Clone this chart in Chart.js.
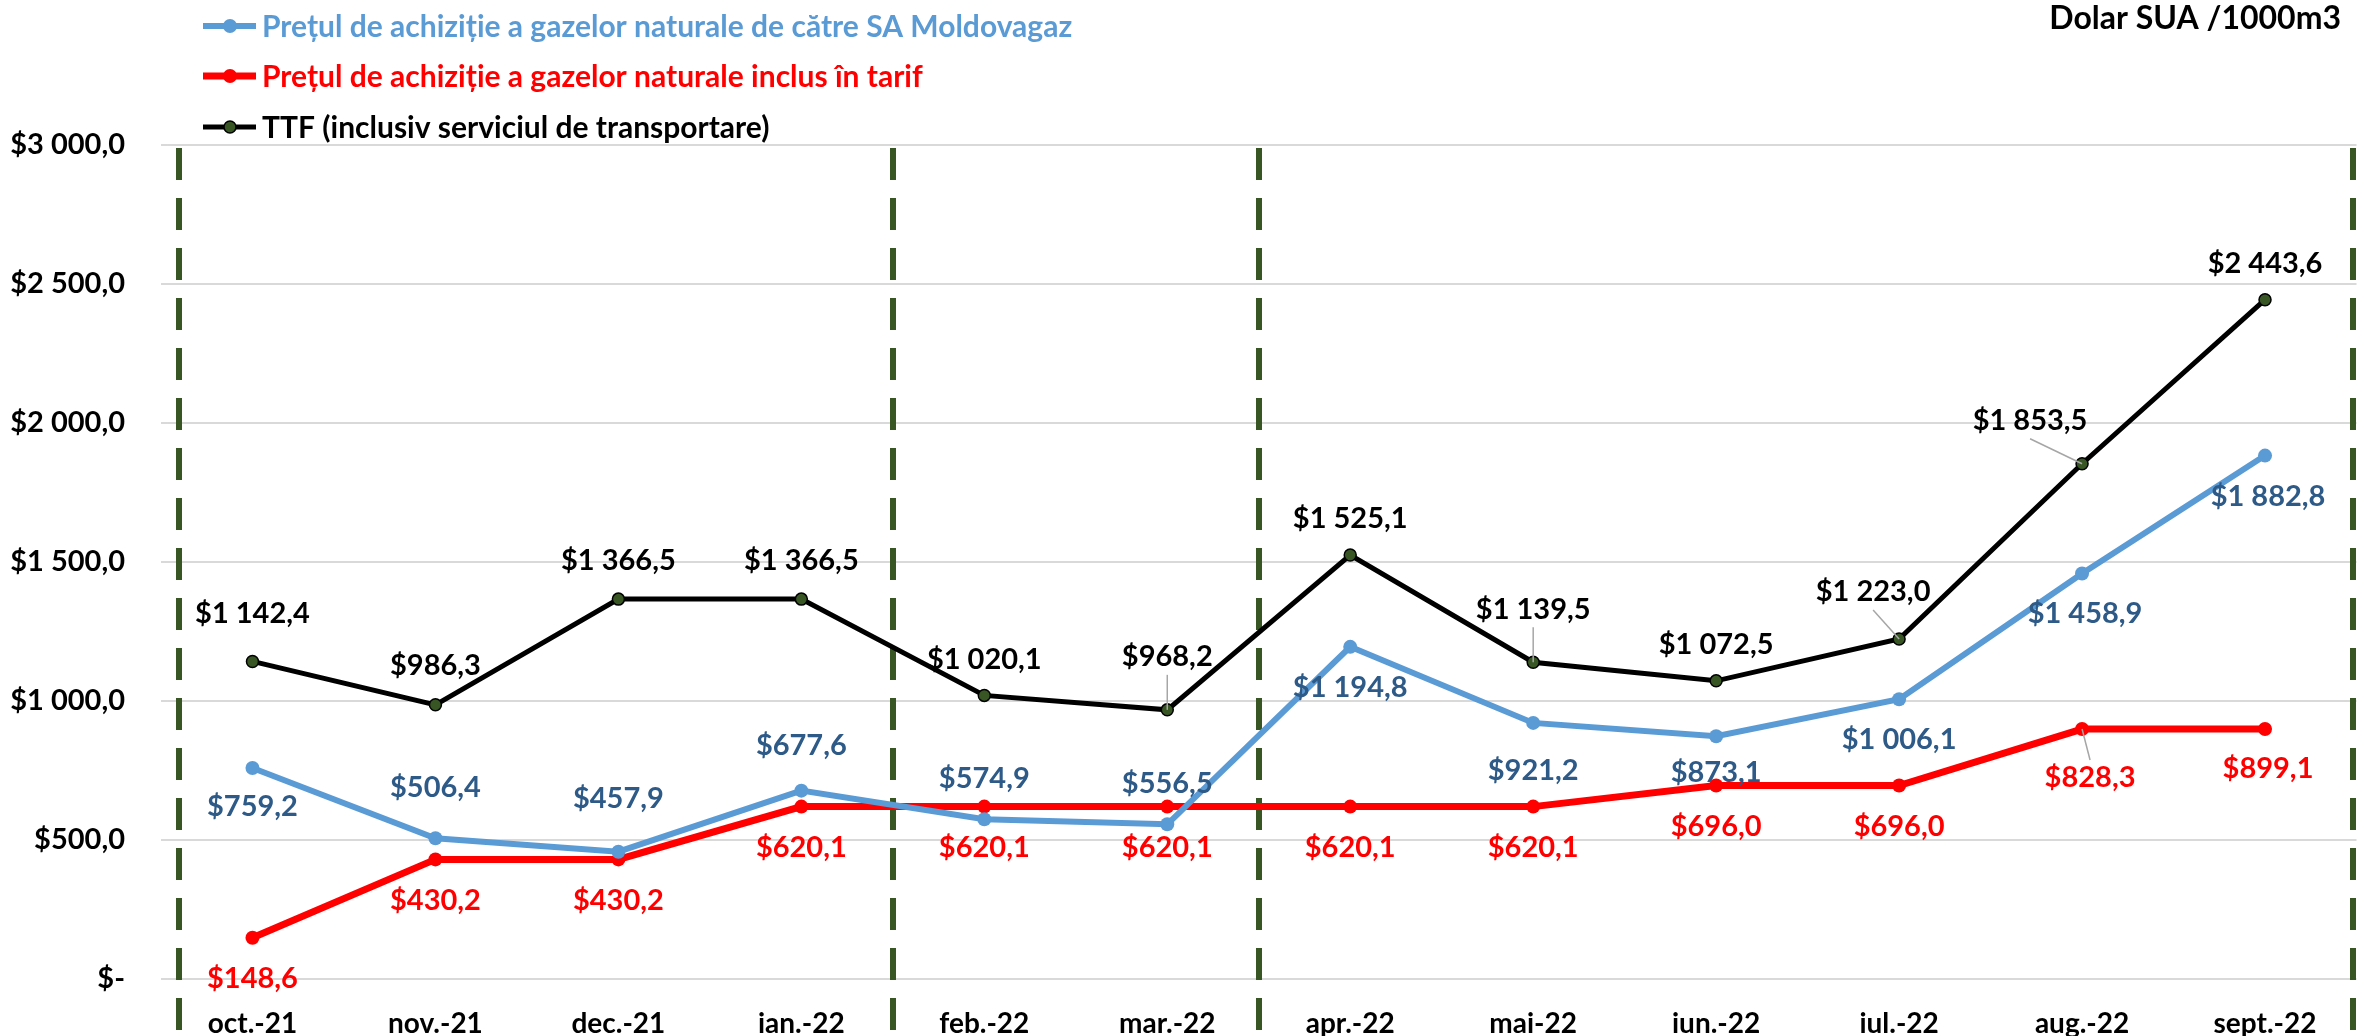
<!DOCTYPE html>
<html>
<head>
<meta charset="utf-8">
<script src="https://cdn.jsdelivr.net/npm/chart.js@4.4.0/dist/chart.umd.min.js"></script>
<style>
  html, body { margin: 0; padding: 0; background: #fff; }
  #wrap { width: 2364px; height: 1036px; }
</style>
</head>
<body>
<div id="wrap"><canvas id="myChart" width="2364" height="1036"></canvas></div>
<script>
// data
const months = ['oct.-21', 'nov.-21', 'dec.-21', 'ian.-22', 'feb.-22', 'mar.-22', 'apr.-22', 'mai-22', 'iun.-22', 'iul.-22', 'aug.-22', 'sept.-22'];
const moldovagaz = [759.2, 506.4, 457.9, 677.6, 574.9, 556.5, 1194.8, 921.2, 873.1, 1006.1, 1458.9, 1882.8];
const tarif = [148.6, 430.2, 430.2, 620.1, 620.1, 620.1, 620.1, 620.1, 696.0, 696.0, 899.1, 899.1];
const tarifShown = [148.6, 430.2, 430.2, 620.1, 620.1, 620.1, 620.1, 620.1, 696.0, 696.0, 828.3, 899.1]; // label printed in the source
const ttf = [1142.4, 986.3, 1366.5, 1366.5, 1020.1, 968.2, 1525.1, 1139.5, 1072.5, 1223.0, 1853.5, 2443.6];
const yTicks = [0, 500, 1000, 1500, 2000, 2500, 3000];
const dividers = [-0.4, 3.5, 5.5, 11.48]; // dashed separators, in category units

const seriesNames = [
    'Prețul de achiziție a gazelor naturale de către SA Moldovagaz',
    'Prețul de achiziție a gazelor naturale inclus în tarif',
    'TTF (inclusiv serviciul de transportare)'
];
const unitText = 'Dolar SUA /1000m3';

// label placement [dx, dy, leader]
const blueLbl = [[0,39],[0,-51],[0,-53],[0,-45],[0,-41],[0,-41],[0,41],[0,48],[0,36],[0,40],[3,40],[3,41]];
const redLbl = [[0,41],[0,41],[0,41],[0,41],[0,41],[0,41],[0,41],[0,41],[0,41],[0,41],[8,49,1],[3,40]];
const blackLbl = [[0,-48],[0,-39],[0,-38],[0,-38],[0,-36],[0,-53,1],[0,-36],[0,-53,1],[0,-36],[-26,-47,1],[-52,-43,1],[0,-36]];

const FONT = 'Lato, "Noto Sans", sans-serif';

function fmt(v) {
    if (v === 0) return '$-';
    let parts = v.toFixed(1).split('.');
    let i = parts[0].replace(/\B(?=(\d{3})+(?!\d))/g, ' ');
    return '$' + i + ',' + parts[1];
}

const extras = {
    id: 'extras',
    beforeDatasetsDraw(chart) {
        const ctx = chart.ctx;
        const x = chart.scales.x;
        const area = chart.chartArea;
        ctx.save();
        ctx.strokeStyle = '#375623';
        ctx.lineWidth = 6;
        ctx.setLineDash([32, 18]);
        dividers.forEach(d => {
            const px = Math.round(x.getPixelForValue(d));
            ctx.beginPath();
            ctx.moveTo(px, area.top + 3);
            ctx.lineTo(px, chart.height - 2);
            ctx.stroke();
        });
        ctx.restore();
    },
    afterDatasetsDraw(chart) {
        const ctx = chart.ctx;
        const sets = [
            {meta: chart.getDatasetMeta(0), vals: moldovagaz, pos: blueLbl, color: '#2E5A87'},
            {meta: chart.getDatasetMeta(1), vals: tarifShown, pos: redLbl, color: '#FF0000'},
            {meta: chart.getDatasetMeta(2), vals: ttf, pos: blackLbl, color: '#000000'}
        ];
        ctx.save();
        ctx.font = 'bold 29px ' + FONT;
        ctx.textAlign = 'center';
        ctx.textBaseline = 'middle';
        sets.forEach(s => {
            s.meta.data.forEach((pt, i) => {
                const p = s.pos[i];
                const lx = pt.x + p[0], ly = pt.y + p[1];
                if (p[2]) {
                    ctx.strokeStyle = '#A6A6A6';
                    ctx.lineWidth = 1.5;
                    ctx.beginPath();
                    ctx.moveTo(lx, ly + (p[1] < 0 ? 18 : -18));
                    ctx.lineTo(pt.x, pt.y);
                    ctx.stroke();
                }
                ctx.fillStyle = s.color;
                ctx.fillText(fmt(s.vals[i]), lx, ly);
            });
        });
        ctx.restore();
    },
    afterDraw(chart) {
        const ctx = chart.ctx;
        ctx.save();
        // legend
        const ds = chart.data.datasets;
        const rows = [26, 76, 127];
        ctx.font = 'bold 30px ' + FONT;
        ctx.textBaseline = 'middle';
        ctx.textAlign = 'left';
        ds.forEach((d, i) => {
            const y = rows[i];
            ctx.strokeStyle = d.borderColor;
            ctx.lineWidth = d.borderWidth;
            ctx.beginPath();
            ctx.moveTo(203, y);
            ctx.lineTo(256, y);
            ctx.stroke();
            ctx.beginPath();
            ctx.arc(230, y, d.pointRadius, 0, Math.PI * 2);
            ctx.fillStyle = d.pointBackgroundColor;
            ctx.fill();
            if (d.pointBorderWidth) {
                ctx.lineWidth = d.pointBorderWidth;
                ctx.strokeStyle = d.pointBorderColor;
                ctx.stroke();
            }
            ctx.fillStyle = d.legendColor;
            ctx.fillText(d.label, 262, y + 1);
        });
        // unit
        ctx.font = 'bold 32px ' + FONT;
        ctx.textAlign = 'right';
        ctx.fillStyle = '#000';
        ctx.fillText(unitText, 2341, 19);
        ctx.restore();
    }
};

const ctx = document.getElementById('myChart').getContext('2d');
const myChart = new Chart(ctx, {
    type: 'line',
    data: {
        labels: months,
        datasets: [{
            label: seriesNames[0],
            data: moldovagaz,
            borderColor: '#5B9BD5',
            backgroundColor: '#5B9BD5',
            pointBackgroundColor: '#5B9BD5',
            pointBorderColor: '#5B9BD5',
            pointBorderWidth: 0,
            borderWidth: 6,
            pointRadius: 7,
            legendColor: '#5B9BD5'
        }, {
            label: seriesNames[1],
            data: tarif,
            borderColor: '#FF0000',
            backgroundColor: '#FF0000',
            pointBackgroundColor: '#FF0000',
            pointBorderColor: '#FF0000',
            pointBorderWidth: 0,
            borderWidth: 7,
            pointRadius: 7,
            legendColor: '#FF0000'
        }, {
            label: seriesNames[2],
            data: ttf,
            borderColor: '#000000',
            backgroundColor: '#375623',
            pointBackgroundColor: '#375623',
            pointBorderColor: '#000000',
            pointBorderWidth: 1.5,
            borderWidth: 5,
            pointRadius: 6,
            legendColor: '#000000'
        }]
    },
    options: {
        responsive: false,
        animation: false,
        layout: { padding: { top: 145, right: 2, left: 0, bottom: 0 } },
        plugins: {
            legend: { display: false },
            tooltip: { enabled: false }
        },
        scales: {
            x: {
                offset: true,
                grid: { display: false, drawTicks: false },
                border: { display: false },
                ticks: {
                    color: '#000',
                    font: { family: FONT, size: 28, weight: 'bold' },
                    padding: 28,
                    maxRotation: 0
                },
                afterFit(scale) { scale.height = 57; }
            },
            y: {
                min: 0,
                max: 3000,
                afterBuildTicks(scale) { scale.ticks = yTicks.map(v => ({value: v})); },
                grid: { color: '#D9D9D9', lineWidth: 2, drawTicks: false },
                border: { display: false },
                ticks: {
                    color: '#000',
                    font: { family: FONT, size: 29, weight: 'bold' },
                    padding: 36,
                    callback: v => fmt(v)
                },
                afterFit(scale) { scale.width = 161; }
            }
        }
    },
    plugins: [extras]
});
</script>
</body>
</html>
